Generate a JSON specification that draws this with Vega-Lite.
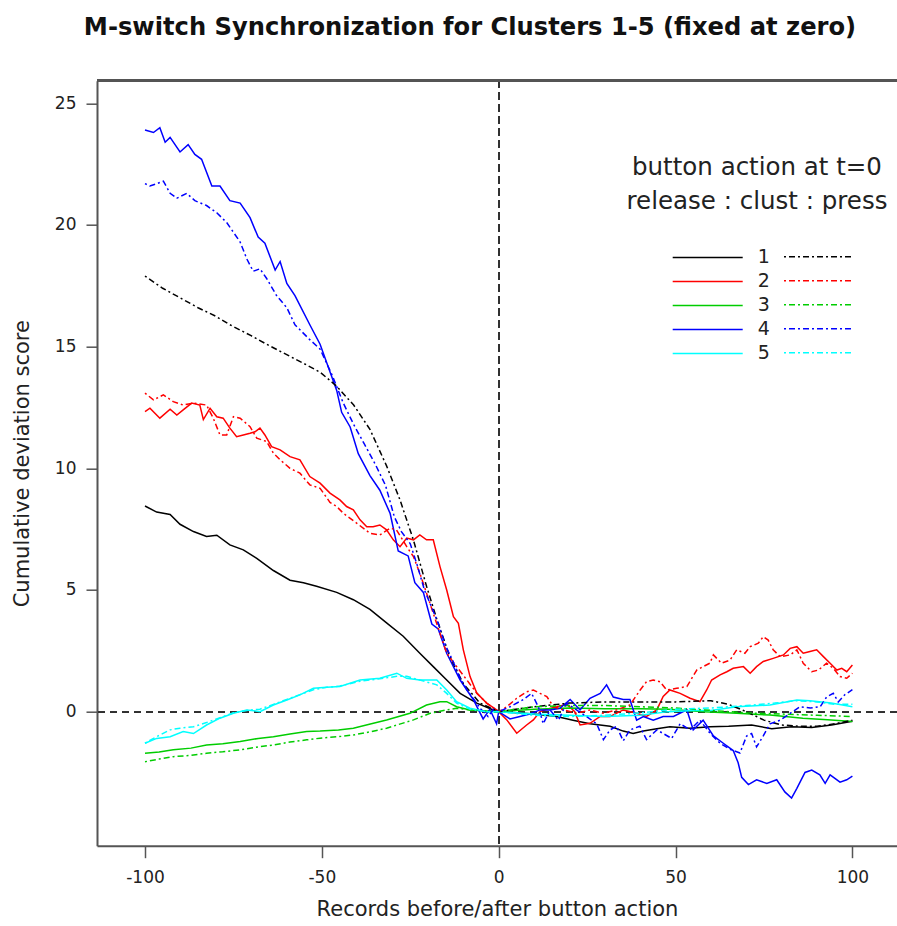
{
"$schema":"https://vega.github.io/schema/vega-lite/v6.json",
"width":800,"height":765,
"autosize":{"type":"none"},
"padding":{"left":97,"top":80.7,"right":0,"bottom":80.3},
"background":"white",
"title":{"text":"M-switch Synchronization for Clusters 1-5 (fixed at zero)","font":"DejaVu Sans","fontSize":24.2,"fontWeight":"bold","color":"#111","anchor":"middle","frame":"group","dx":-27,"offset":20,"baseline":"alphabetic"},
"config":{"view":{"stroke":null},"font":"DejaVu Sans"},
"data":{"values":[
{"c":"1","t":"r","x":-100,"y":8.45},{"c":"1","t":"r","x":-96.7,"y":8.2},{"c":"1","t":"r","x":-92.9,"y":8.1},{"c":"1","t":"r","x":-90.1,"y":7.7},{"c":"1","t":"r","x":-86.3,"y":7.4},{"c":"1","t":"r","x":-82.6,"y":7.2},{"c":"1","t":"r","x":-79.7,"y":7.25},{"c":"1","t":"r","x":-76,"y":6.85},{"c":"1","t":"r","x":-72.2,"y":6.65},{"c":"1","t":"r","x":-68.4,"y":6.3},{"c":"1","t":"r","x":-63.7,"y":5.8},{"c":"1","t":"r","x":-59,"y":5.4},{"c":"1","t":"r","x":-55.2,"y":5.3},{"c":"1","t":"r","x":-51.5,"y":5.15},{"c":"1","t":"r","x":-45.8,"y":4.9},{"c":"1","t":"r","x":-41.1,"y":4.6},{"c":"1","t":"r","x":-36.4,"y":4.2},{"c":"1","t":"r","x":-31.7,"y":3.65},{"c":"1","t":"r","x":-27,"y":3.1},{"c":"1","t":"r","x":-22.3,"y":2.4},{"c":"1","t":"r","x":-18.5,"y":1.85},{"c":"1","t":"r","x":-14.7,"y":1.3},{"c":"1","t":"r","x":-10.9,"y":0.75},{"c":"1","t":"r","x":-6.2,"y":0.35},{"c":"1","t":"r","x":-1.5,"y":0.07},{"c":"1","t":"r","x":0,"y":0},{"c":"1","t":"r","x":5,"y":-0.05},{"c":"1","t":"r","x":10,"y":-0.1},{"c":"1","t":"r","x":16.4,"y":-0.2},{"c":"1","t":"r","x":21,"y":-0.35},{"c":"1","t":"r","x":25.8,"y":-0.5},{"c":"1","t":"r","x":31.5,"y":-0.6},{"c":"1","t":"r","x":35.2,"y":-0.8},{"c":"1","t":"r","x":38,"y":-0.9},{"c":"1","t":"r","x":40.9,"y":-0.8},{"c":"1","t":"r","x":44.7,"y":-0.7},{"c":"1","t":"r","x":48.4,"y":-0.62},{"c":"1","t":"r","x":54.1,"y":-0.68},{"c":"1","t":"r","x":59.8,"y":-0.62},{"c":"1","t":"r","x":65,"y":-0.6},{"c":"1","t":"r","x":71.5,"y":-0.55},{"c":"1","t":"r","x":77.2,"y":-0.7},{"c":"1","t":"r","x":82.8,"y":-0.62},{"c":"1","t":"r","x":88.5,"y":-0.65},{"c":"1","t":"r","x":94.1,"y":-0.55},{"c":"1","t":"r","x":100,"y":-0.4},
{"c":"1","t":"p","x":-100,"y":17.9},{"c":"1","t":"p","x":-95,"y":17.4},{"c":"1","t":"p","x":-90,"y":17.0},{"c":"1","t":"p","x":-85,"y":16.6},{"c":"1","t":"p","x":-80,"y":16.25},{"c":"1","t":"p","x":-76,"y":15.9},{"c":"1","t":"p","x":-70,"y":15.45},{"c":"1","t":"p","x":-65,"y":15.05},{"c":"1","t":"p","x":-59,"y":14.6},{"c":"1","t":"p","x":-55,"y":14.3},{"c":"1","t":"p","x":-50.5,"y":13.95},{"c":"1","t":"p","x":-46,"y":13.4},{"c":"1","t":"p","x":-41,"y":12.6},{"c":"1","t":"p","x":-36.4,"y":11.6},{"c":"1","t":"p","x":-31.7,"y":10.1},{"c":"1","t":"p","x":-27.9,"y":8.7},{"c":"1","t":"p","x":-24.1,"y":7.05},{"c":"1","t":"p","x":-20.4,"y":5.15},{"c":"1","t":"p","x":-17.5,"y":3.8},{"c":"1","t":"p","x":-13.8,"y":2.25},{"c":"1","t":"p","x":-10,"y":1.15},{"c":"1","t":"p","x":-5.3,"y":0.35},{"c":"1","t":"p","x":0,"y":0},{"c":"1","t":"p","x":10,"y":0.2},{"c":"1","t":"p","x":20,"y":0.35},{"c":"1","t":"p","x":30,"y":0.4},{"c":"1","t":"p","x":40,"y":0.4},{"c":"1","t":"p","x":50,"y":0.4},{"c":"1","t":"p","x":60,"y":0.45},{"c":"1","t":"p","x":65,"y":0.3},{"c":"1","t":"p","x":70,"y":0},{"c":"1","t":"p","x":75,"y":-0.35},{"c":"1","t":"p","x":80,"y":-0.55},{"c":"1","t":"p","x":85,"y":-0.6},{"c":"1","t":"p","x":90,"y":-0.6},{"c":"1","t":"p","x":95,"y":-0.5},{"c":"1","t":"p","x":100,"y":-0.35},
{"c":"2","t":"r","x":-100,"y":12.33},{"c":"2","t":"r","x":-98.6,"y":12.47},{"c":"2","t":"r","x":-95.8,"y":12.06},{"c":"2","t":"r","x":-92.9,"y":12.43},{"c":"2","t":"r","x":-91,"y":12.19},{"c":"2","t":"r","x":-89.2,"y":12.4},{"c":"2","t":"r","x":-86.8,"y":12.68},{"c":"2","t":"r","x":-84.5,"y":12.6},{"c":"2","t":"r","x":-83.5,"y":12.0},{"c":"2","t":"r","x":-81.6,"y":12.47},{"c":"2","t":"r","x":-79.7,"y":12.12},{"c":"2","t":"r","x":-77.9,"y":12.06},{"c":"2","t":"r","x":-76,"y":11.65},{"c":"2","t":"r","x":-74.1,"y":11.3},{"c":"2","t":"r","x":-72.2,"y":11.37},{"c":"2","t":"r","x":-70.3,"y":11.44},{"c":"2","t":"r","x":-68.9,"y":11.5},{"c":"2","t":"r","x":-67.5,"y":11.65},{"c":"2","t":"r","x":-66.1,"y":11.37},{"c":"2","t":"r","x":-64.2,"y":10.89},{"c":"2","t":"r","x":-61.8,"y":10.76},{"c":"2","t":"r","x":-59,"y":10.48},{"c":"2","t":"r","x":-56.2,"y":10.35},{"c":"2","t":"r","x":-53.4,"y":9.66},{"c":"2","t":"r","x":-50.5,"y":9.39},{"c":"2","t":"r","x":-47.7,"y":8.98},{"c":"2","t":"r","x":-44.9,"y":8.7},{"c":"2","t":"r","x":-43,"y":8.43},{"c":"2","t":"r","x":-41.1,"y":8.29},{"c":"2","t":"r","x":-39.2,"y":7.88},{"c":"2","t":"r","x":-37.3,"y":7.6},{"c":"2","t":"r","x":-35.5,"y":7.6},{"c":"2","t":"r","x":-33.6,"y":7.67},{"c":"2","t":"r","x":-31.7,"y":7.47},{"c":"2","t":"r","x":-29.8,"y":7.06},{"c":"2","t":"r","x":-27.9,"y":6.78},{"c":"2","t":"r","x":-26,"y":7.13},{"c":"2","t":"r","x":-24.1,"y":7.06},{"c":"2","t":"r","x":-22.3,"y":7.26},{"c":"2","t":"r","x":-20.4,"y":7.06},{"c":"2","t":"r","x":-18.5,"y":7.06},{"c":"2","t":"r","x":-16.6,"y":5.96},{"c":"2","t":"r","x":-14.7,"y":5.0},{"c":"2","t":"r","x":-12.8,"y":3.9},{"c":"2","t":"r","x":-11.4,"y":3.63},{"c":"2","t":"r","x":-10,"y":2.54},{"c":"2","t":"r","x":-8.1,"y":1.44},{"c":"2","t":"r","x":-6.2,"y":0.76},{"c":"2","t":"r","x":-3.4,"y":0.35},{"c":"2","t":"r","x":-0.6,"y":0.07},{"c":"2","t":"r","x":0,"y":0},{"c":"2","t":"r","x":2.3,"y":-0.34},{"c":"2","t":"r","x":5.1,"y":-0.89},{"c":"2","t":"r","x":7.9,"y":-0.55},{"c":"2","t":"r","x":9.8,"y":-0.34},{"c":"2","t":"r","x":11.7,"y":0.0},{"c":"2","t":"r","x":13.6,"y":0.1},{"c":"2","t":"r","x":16.5,"y":0.2},{"c":"2","t":"r","x":19.3,"y":0.3},{"c":"2","t":"r","x":21.5,"y":0.0},{"c":"2","t":"r","x":23,"y":-0.55},{"c":"2","t":"r","x":25.8,"y":-0.48},{"c":"2","t":"r","x":28.7,"y":-0.2},{"c":"2","t":"r","x":31.5,"y":-0.2},{"c":"2","t":"r","x":35.2,"y":0.07},{"c":"2","t":"r","x":39,"y":-0.07},{"c":"2","t":"r","x":41.8,"y":-0.2},{"c":"2","t":"r","x":44.7,"y":0.07},{"c":"2","t":"r","x":46.5,"y":0.62},{"c":"2","t":"r","x":48.4,"y":0.89},{"c":"2","t":"r","x":51.3,"y":0.75},{"c":"2","t":"r","x":54.1,"y":0.55},{"c":"2","t":"r","x":56.9,"y":0.41},{"c":"2","t":"r","x":58.8,"y":0.89},{"c":"2","t":"r","x":60.2,"y":1.3},{"c":"2","t":"r","x":62.6,"y":1.51},{"c":"2","t":"r","x":64.5,"y":1.64},{"c":"2","t":"r","x":66.3,"y":1.78},{"c":"2","t":"r","x":69.2,"y":1.85},{"c":"2","t":"r","x":71.1,"y":1.58},{"c":"2","t":"r","x":72.9,"y":1.85},{"c":"2","t":"r","x":74.8,"y":2.06},{"c":"2","t":"r","x":77.6,"y":2.19},{"c":"2","t":"r","x":80.5,"y":2.33},{"c":"2","t":"r","x":82.4,"y":2.6},{"c":"2","t":"r","x":84.3,"y":2.67},{"c":"2","t":"r","x":86.1,"y":2.4},{"c":"2","t":"r","x":88,"y":2.47},{"c":"2","t":"r","x":89.9,"y":2.54},{"c":"2","t":"r","x":91.8,"y":2.26},{"c":"2","t":"r","x":93.7,"y":1.99},{"c":"2","t":"r","x":95.6,"y":1.71},{"c":"2","t":"r","x":97,"y":1.78},{"c":"2","t":"r","x":98.4,"y":1.64},{"c":"2","t":"r","x":100,"y":1.92},
{"c":"2","t":"p","x":-100,"y":13.09},{"c":"2","t":"p","x":-97.6,"y":12.81},{"c":"2","t":"p","x":-94.8,"y":13.02},{"c":"2","t":"p","x":-92,"y":12.74},{"c":"2","t":"p","x":-89.2,"y":12.6},{"c":"2","t":"p","x":-86.3,"y":12.68},{"c":"2","t":"p","x":-82.6,"y":12.6},{"c":"2","t":"p","x":-80.7,"y":12.06},{"c":"2","t":"p","x":-78.8,"y":11.37},{"c":"2","t":"p","x":-76.9,"y":11.37},{"c":"2","t":"p","x":-75,"y":12.12},{"c":"2","t":"p","x":-73.1,"y":12.06},{"c":"2","t":"p","x":-70.3,"y":11.71},{"c":"2","t":"p","x":-68.4,"y":11.24},{"c":"2","t":"p","x":-65.6,"y":11.1},{"c":"2","t":"p","x":-63.7,"y":10.62},{"c":"2","t":"p","x":-61.8,"y":10.35},{"c":"2","t":"p","x":-59,"y":10.0},{"c":"2","t":"p","x":-56.2,"y":9.8},{"c":"2","t":"p","x":-53.4,"y":9.32},{"c":"2","t":"p","x":-50.5,"y":9.18},{"c":"2","t":"p","x":-47.7,"y":8.6},{"c":"2","t":"p","x":-45.8,"y":8.43},{"c":"2","t":"p","x":-43.9,"y":8.15},{"c":"2","t":"p","x":-40.1,"y":7.74},{"c":"2","t":"p","x":-36.4,"y":7.33},{"c":"2","t":"p","x":-33.6,"y":7.26},{"c":"2","t":"p","x":-30.7,"y":7.54},{"c":"2","t":"p","x":-28.9,"y":7.47},{"c":"2","t":"p","x":-26,"y":6.78},{"c":"2","t":"p","x":-24.1,"y":6.37},{"c":"2","t":"p","x":-22.3,"y":5.69},{"c":"2","t":"p","x":-20.4,"y":4.87},{"c":"2","t":"p","x":-18.5,"y":4.04},{"c":"2","t":"p","x":-16.6,"y":3.22},{"c":"2","t":"p","x":-14.7,"y":2.4},{"c":"2","t":"p","x":-11.9,"y":1.85},{"c":"2","t":"p","x":-9,"y":1.3},{"c":"2","t":"p","x":-6.2,"y":0.76},{"c":"2","t":"p","x":-3.4,"y":0.35},{"c":"2","t":"p","x":0,"y":0},{"c":"2","t":"p","x":2.3,"y":0.2},{"c":"2","t":"p","x":5.1,"y":0.55},{"c":"2","t":"p","x":7.9,"y":0.82},{"c":"2","t":"p","x":9.8,"y":0.89},{"c":"2","t":"p","x":11.7,"y":0.75},{"c":"2","t":"p","x":13.6,"y":0.62},{"c":"2","t":"p","x":15.5,"y":0.2},{"c":"2","t":"p","x":18.3,"y":0.07},{"c":"2","t":"p","x":22,"y":-0.07},{"c":"2","t":"p","x":25.8,"y":0.07},{"c":"2","t":"p","x":29.6,"y":-0.07},{"c":"2","t":"p","x":33.3,"y":0.07},{"c":"2","t":"p","x":37.1,"y":0.27},{"c":"2","t":"p","x":40,"y":0.89},{"c":"2","t":"p","x":41.8,"y":1.23},{"c":"2","t":"p","x":43.7,"y":1.3},{"c":"2","t":"p","x":45.6,"y":1.23},{"c":"2","t":"p","x":47.5,"y":0.89},{"c":"2","t":"p","x":50.3,"y":0.96},{"c":"2","t":"p","x":53.2,"y":1.03},{"c":"2","t":"p","x":56,"y":1.71},{"c":"2","t":"p","x":57.8,"y":1.85},{"c":"2","t":"p","x":59.7,"y":1.99},{"c":"2","t":"p","x":60.7,"y":2.33},{"c":"2","t":"p","x":63,"y":1.99},{"c":"2","t":"p","x":65.4,"y":2.12},{"c":"2","t":"p","x":67.3,"y":2.54},{"c":"2","t":"p","x":69.6,"y":2.4},{"c":"2","t":"p","x":71.1,"y":2.67},{"c":"2","t":"p","x":73.4,"y":2.81},{"c":"2","t":"p","x":74.8,"y":3.08},{"c":"2","t":"p","x":76.2,"y":2.94},{"c":"2","t":"p","x":77.6,"y":2.54},{"c":"2","t":"p","x":79.6,"y":2.26},{"c":"2","t":"p","x":82.4,"y":2.33},{"c":"2","t":"p","x":84.3,"y":2.54},{"c":"2","t":"p","x":86.1,"y":1.99},{"c":"2","t":"p","x":88.5,"y":1.64},{"c":"2","t":"p","x":90.4,"y":1.71},{"c":"2","t":"p","x":92.7,"y":1.99},{"c":"2","t":"p","x":94.6,"y":1.78},{"c":"2","t":"p","x":96.5,"y":1.44},{"c":"2","t":"p","x":98.4,"y":1.37},{"c":"2","t":"p","x":100,"y":1.58},
{"c":"3","t":"r","x":-100,"y":-1.71},{"c":"3","t":"r","x":-96,"y":-1.66},{"c":"3","t":"r","x":-92,"y":-1.57},{"c":"3","t":"r","x":-87,"y":-1.5},{"c":"3","t":"r","x":-82.6,"y":-1.37},{"c":"3","t":"r","x":-78,"y":-1.32},{"c":"3","t":"r","x":-73.1,"y":-1.23},{"c":"3","t":"r","x":-68,"y":-1.1},{"c":"3","t":"r","x":-63.7,"y":-1.03},{"c":"3","t":"r","x":-59,"y":-0.92},{"c":"3","t":"r","x":-54.3,"y":-0.82},{"c":"3","t":"r","x":-50.5,"y":-0.8},{"c":"3","t":"r","x":-45.3,"y":-0.75},{"c":"3","t":"r","x":-41.1,"y":-0.68},{"c":"3","t":"r","x":-36,"y":-0.5},{"c":"3","t":"r","x":-31.7,"y":-0.34},{"c":"3","t":"r","x":-25.1,"y":-0.07},{"c":"3","t":"r","x":-20.4,"y":0.27},{"c":"3","t":"r","x":-16.6,"y":0.41},{"c":"3","t":"r","x":-14.7,"y":0.41},{"c":"3","t":"r","x":-11.9,"y":0.2},{"c":"3","t":"r","x":-8.1,"y":0.07},{"c":"3","t":"r","x":0,"y":0},{"c":"3","t":"r","x":10,"y":0.1},{"c":"3","t":"r","x":20,"y":0.15},{"c":"3","t":"r","x":30,"y":0.12},{"c":"3","t":"r","x":40,"y":0.12},{"c":"3","t":"r","x":48,"y":0.1},{"c":"3","t":"r","x":58,"y":0.0},{"c":"3","t":"r","x":67.3,"y":-0.07},{"c":"3","t":"r","x":76.7,"y":-0.14},{"c":"3","t":"r","x":86,"y":-0.27},{"c":"3","t":"r","x":93,"y":-0.33},{"c":"3","t":"r","x":100,"y":-0.41},
{"c":"3","t":"p","x":-100,"y":-2.06},{"c":"3","t":"p","x":-96,"y":-1.95},{"c":"3","t":"p","x":-92,"y":-1.85},{"c":"3","t":"p","x":-87,"y":-1.8},{"c":"3","t":"p","x":-82.6,"y":-1.71},{"c":"3","t":"p","x":-78,"y":-1.65},{"c":"3","t":"p","x":-73.1,"y":-1.57},{"c":"3","t":"p","x":-68,"y":-1.45},{"c":"3","t":"p","x":-63.7,"y":-1.37},{"c":"3","t":"p","x":-59,"y":-1.25},{"c":"3","t":"p","x":-54.3,"y":-1.16},{"c":"3","t":"p","x":-50.5,"y":-1.09},{"c":"3","t":"p","x":-45.3,"y":-1.03},{"c":"3","t":"p","x":-41.1,"y":-0.96},{"c":"3","t":"p","x":-36,"y":-0.82},{"c":"3","t":"p","x":-31.7,"y":-0.68},{"c":"3","t":"p","x":-24.1,"y":-0.34},{"c":"3","t":"p","x":-19.4,"y":-0.07},{"c":"3","t":"p","x":-14.7,"y":0.07},{"c":"3","t":"p","x":-11.9,"y":0.14},{"c":"3","t":"p","x":-8.1,"y":0.07},{"c":"3","t":"p","x":0,"y":0},{"c":"3","t":"p","x":10,"y":0.2},{"c":"3","t":"p","x":20,"y":0.25},{"c":"3","t":"p","x":30,"y":0.25},{"c":"3","t":"p","x":40,"y":0.2},{"c":"3","t":"p","x":50,"y":0.15},{"c":"3","t":"p","x":60,"y":0.05},{"c":"3","t":"p","x":70,"y":-0.05},{"c":"3","t":"p","x":80,"y":-0.1},{"c":"3","t":"p","x":90,"y":-0.15},{"c":"3","t":"p","x":100,"y":-0.2},
{"c":"4","t":"r","x":-100,"y":23.9},{"c":"4","t":"r","x":-97.6,"y":23.8},{"c":"4","t":"r","x":-95.8,"y":24.0},{"c":"4","t":"r","x":-94.3,"y":23.4},{"c":"4","t":"r","x":-92.9,"y":23.6},{"c":"4","t":"r","x":-90.1,"y":23.0},{"c":"4","t":"r","x":-87.8,"y":23.3},{"c":"4","t":"r","x":-85.9,"y":22.9},{"c":"4","t":"r","x":-84,"y":22.7},{"c":"4","t":"r","x":-81.1,"y":21.6},{"c":"4","t":"r","x":-78.8,"y":21.6},{"c":"4","t":"r","x":-76,"y":21.0},{"c":"4","t":"r","x":-73.1,"y":20.9},{"c":"4","t":"r","x":-70.3,"y":20.3},{"c":"4","t":"r","x":-68,"y":19.5},{"c":"4","t":"r","x":-66.1,"y":19.25},{"c":"4","t":"r","x":-63.2,"y":18.15},{"c":"4","t":"r","x":-61.8,"y":18.5},{"c":"4","t":"r","x":-59.9,"y":17.6},{"c":"4","t":"r","x":-57.6,"y":17.1},{"c":"4","t":"r","x":-53.4,"y":15.9},{"c":"4","t":"r","x":-50.5,"y":15.1},{"c":"4","t":"r","x":-45.8,"y":13.2},{"c":"4","t":"r","x":-44.4,"y":12.3},{"c":"4","t":"r","x":-42,"y":11.7},{"c":"4","t":"r","x":-39.7,"y":10.6},{"c":"4","t":"r","x":-36.4,"y":9.7},{"c":"4","t":"r","x":-33.6,"y":9.1},{"c":"4","t":"r","x":-30.7,"y":8.15},{"c":"4","t":"r","x":-28.4,"y":6.6},{"c":"4","t":"r","x":-25.6,"y":6.4},{"c":"4","t":"r","x":-23.7,"y":5.3},{"c":"4","t":"r","x":-21.3,"y":4.9},{"c":"4","t":"r","x":-18.9,"y":3.6},{"c":"4","t":"r","x":-17.1,"y":3.4},{"c":"4","t":"r","x":-14.7,"y":2.4},{"c":"4","t":"r","x":-10.9,"y":1.3},{"c":"4","t":"r","x":-7.2,"y":0.5},{"c":"4","t":"r","x":-4.4,"y":-0.3},{"c":"4","t":"r","x":-2.5,"y":0.1},{"c":"4","t":"r","x":-0.6,"y":-0.5},{"c":"4","t":"r","x":0,"y":0},{"c":"4","t":"r","x":3.2,"y":-0.3},{"c":"4","t":"r","x":6,"y":-0.2},{"c":"4","t":"r","x":8.8,"y":-0.1},{"c":"4","t":"r","x":11.7,"y":0.07},{"c":"4","t":"r","x":14.5,"y":0.07},{"c":"4","t":"r","x":17.3,"y":0.14},{"c":"4","t":"r","x":20.2,"y":0.5},{"c":"4","t":"r","x":23,"y":0.07},{"c":"4","t":"r","x":25.8,"y":0.55},{"c":"4","t":"r","x":28.7,"y":0.75},{"c":"4","t":"r","x":30.5,"y":1.1},{"c":"4","t":"r","x":32.4,"y":0.6},{"c":"4","t":"r","x":35.2,"y":0.5},{"c":"4","t":"r","x":37.1,"y":0.5},{"c":"4","t":"r","x":39,"y":-0.35},{"c":"4","t":"r","x":40.9,"y":-0.2},{"c":"4","t":"r","x":43.7,"y":-0.35},{"c":"4","t":"r","x":46.5,"y":-0.2},{"c":"4","t":"r","x":49.4,"y":-0.2},{"c":"4","t":"r","x":53.2,"y":0.07},{"c":"4","t":"r","x":55,"y":-0.75},{"c":"4","t":"r","x":57.8,"y":-0.35},{"c":"4","t":"r","x":60.7,"y":-1.0},{"c":"4","t":"r","x":63.5,"y":-1.3},{"c":"4","t":"r","x":66.3,"y":-1.6},{"c":"4","t":"r","x":67.7,"y":-2.1},{"c":"4","t":"r","x":68.7,"y":-2.7},{"c":"4","t":"r","x":70.6,"y":-3.0},{"c":"4","t":"r","x":72.9,"y":-2.8},{"c":"4","t":"r","x":75.8,"y":-2.95},{"c":"4","t":"r","x":78.6,"y":-2.8},{"c":"4","t":"r","x":80.9,"y":-3.3},{"c":"4","t":"r","x":82.8,"y":-3.55},{"c":"4","t":"r","x":84.3,"y":-3.15},{"c":"4","t":"r","x":86.6,"y":-2.5},{"c":"4","t":"r","x":88.5,"y":-2.4},{"c":"4","t":"r","x":90.8,"y":-2.6},{"c":"4","t":"r","x":92.3,"y":-2.95},{"c":"4","t":"r","x":93.7,"y":-2.6},{"c":"4","t":"r","x":96.5,"y":-2.9},{"c":"4","t":"r","x":98.4,"y":-2.8},{"c":"4","t":"r","x":100,"y":-2.65},
{"c":"4","t":"p","x":-100,"y":21.7},{"c":"4","t":"p","x":-98.6,"y":21.6},{"c":"4","t":"p","x":-96.7,"y":21.7},{"c":"4","t":"p","x":-94.8,"y":21.8},{"c":"4","t":"p","x":-92.9,"y":21.3},{"c":"4","t":"p","x":-91,"y":21.1},{"c":"4","t":"p","x":-88.2,"y":21.3},{"c":"4","t":"p","x":-85.9,"y":21.0},{"c":"4","t":"p","x":-82.6,"y":20.8},{"c":"4","t":"p","x":-79.7,"y":20.5},{"c":"4","t":"p","x":-76.9,"y":20.1},{"c":"4","t":"p","x":-75,"y":19.7},{"c":"4","t":"p","x":-73.1,"y":19.3},{"c":"4","t":"p","x":-71.2,"y":18.6},{"c":"4","t":"p","x":-69.4,"y":18.1},{"c":"4","t":"p","x":-67.5,"y":18.2},{"c":"4","t":"p","x":-65.6,"y":17.8},{"c":"4","t":"p","x":-62.8,"y":17.1},{"c":"4","t":"p","x":-59.9,"y":16.6},{"c":"4","t":"p","x":-57.6,"y":15.9},{"c":"4","t":"p","x":-53.5,"y":15.3},{"c":"4","t":"p","x":-50.5,"y":14.9},{"c":"4","t":"p","x":-47,"y":13.8},{"c":"4","t":"p","x":-44,"y":12.7},{"c":"4","t":"p","x":-41,"y":11.8},{"c":"4","t":"p","x":-38,"y":11.0},{"c":"4","t":"p","x":-35,"y":10.2},{"c":"4","t":"p","x":-32,"y":9.3},{"c":"4","t":"p","x":-29.5,"y":8.0},{"c":"4","t":"p","x":-27.5,"y":7.4},{"c":"4","t":"p","x":-25,"y":6.9},{"c":"4","t":"p","x":-23,"y":6.0},{"c":"4","t":"p","x":-21,"y":5.0},{"c":"4","t":"p","x":-19,"y":4.3},{"c":"4","t":"p","x":-17,"y":3.6},{"c":"4","t":"p","x":-15,"y":2.7},{"c":"4","t":"p","x":-13,"y":2.1},{"c":"4","t":"p","x":-11,"y":1.4},{"c":"4","t":"p","x":-9,"y":0.9},{"c":"4","t":"p","x":-7,"y":0.5},{"c":"4","t":"p","x":-5,"y":0.1},{"c":"4","t":"p","x":-3,"y":-0.2},{"c":"4","t":"p","x":-1.5,"y":0.1},{"c":"4","t":"p","x":0,"y":0},{"c":"4","t":"p","x":3.2,"y":0.2},{"c":"4","t":"p","x":7,"y":0.5},{"c":"4","t":"p","x":9.3,"y":0.75},{"c":"4","t":"p","x":11.2,"y":0.2},{"c":"4","t":"p","x":12.6,"y":-0.5},{"c":"4","t":"p","x":14.5,"y":0.07},{"c":"4","t":"p","x":16.9,"y":-0.35},{"c":"4","t":"p","x":19.2,"y":0.35},{"c":"4","t":"p","x":22,"y":0.07},{"c":"4","t":"p","x":24.8,"y":-0.2},{"c":"4","t":"p","x":27.7,"y":-0.5},{"c":"4","t":"p","x":29.6,"y":-1.15},{"c":"4","t":"p","x":31.5,"y":-0.75},{"c":"4","t":"p","x":33.3,"y":-0.6},{"c":"4","t":"p","x":35.2,"y":-1.2},{"c":"4","t":"p","x":37.1,"y":-0.75},{"c":"4","t":"p","x":39.9,"y":-0.6},{"c":"4","t":"p","x":41.8,"y":-1.15},{"c":"4","t":"p","x":44.7,"y":-0.75},{"c":"4","t":"p","x":46.5,"y":-0.9},{"c":"4","t":"p","x":48.9,"y":-1.1},{"c":"4","t":"p","x":51.3,"y":-0.5},{"c":"4","t":"p","x":54.1,"y":-0.75},{"c":"4","t":"p","x":56.9,"y":-0.35},{"c":"4","t":"p","x":59.8,"y":-0.9},{"c":"4","t":"p","x":62.6,"y":-1.3},{"c":"4","t":"p","x":65.4,"y":-1.55},{"c":"4","t":"p","x":68.2,"y":-1.7},{"c":"4","t":"p","x":70.1,"y":-1.0},{"c":"4","t":"p","x":71.5,"y":-0.9},{"c":"4","t":"p","x":72.9,"y":-1.45},{"c":"4","t":"p","x":74.8,"y":-1.0},{"c":"4","t":"p","x":76.7,"y":-0.5},{"c":"4","t":"p","x":79.6,"y":-0.35},{"c":"4","t":"p","x":82.4,"y":-0.07},{"c":"4","t":"p","x":85.2,"y":0.2},{"c":"4","t":"p","x":88.1,"y":0.15},{"c":"4","t":"p","x":90.9,"y":0.2},{"c":"4","t":"p","x":92.7,"y":0.6},{"c":"4","t":"p","x":94.6,"y":0.75},{"c":"4","t":"p","x":96,"y":0.4},{"c":"4","t":"p","x":97.9,"y":0.7},{"c":"4","t":"p","x":100,"y":0.9},
{"c":"5","t":"r","x":-100,"y":-1.3},{"c":"5","t":"r","x":-96.7,"y":-1.1},{"c":"5","t":"r","x":-92.9,"y":-1.03},{"c":"5","t":"r","x":-89.2,"y":-0.82},{"c":"5","t":"r","x":-86.3,"y":-0.9},{"c":"5","t":"r","x":-82.6,"y":-0.55},{"c":"5","t":"r","x":-78.8,"y":-0.27},{"c":"5","t":"r","x":-75,"y":-0.07},{"c":"5","t":"r","x":-71.2,"y":0.07},{"c":"5","t":"r","x":-67.5,"y":0.0},{"c":"5","t":"r","x":-63.7,"y":0.27},{"c":"5","t":"r","x":-59.9,"y":0.48},{"c":"5","t":"r","x":-56.2,"y":0.69},{"c":"5","t":"r","x":-52.4,"y":0.96},{"c":"5","t":"r","x":-48.6,"y":1.0},{"c":"5","t":"r","x":-44.9,"y":1.03},{"c":"5","t":"r","x":-39.2,"y":1.3},{"c":"5","t":"r","x":-33.6,"y":1.37},{"c":"5","t":"r","x":-28.8,"y":1.58},{"c":"5","t":"r","x":-26,"y":1.37},{"c":"5","t":"r","x":-22.3,"y":1.3},{"c":"5","t":"r","x":-17.5,"y":1.3},{"c":"5","t":"r","x":-14.7,"y":0.89},{"c":"5","t":"r","x":-11.9,"y":0.41},{"c":"5","t":"r","x":-8.1,"y":0.14},{"c":"5","t":"r","x":-3.4,"y":0.0},{"c":"5","t":"r","x":0,"y":0},{"c":"5","t":"r","x":10,"y":-0.1},{"c":"5","t":"r","x":20,"y":-0.15},{"c":"5","t":"r","x":30,"y":-0.2},{"c":"5","t":"r","x":40,"y":-0.15},{"c":"5","t":"r","x":48,"y":0.0},{"c":"5","t":"r","x":55,"y":0.05},{"c":"5","t":"r","x":60,"y":0.05},{"c":"5","t":"r","x":67.3,"y":0.2},{"c":"5","t":"r","x":76.7,"y":0.27},{"c":"5","t":"r","x":84.3,"y":0.48},{"c":"5","t":"r","x":88,"y":0.45},{"c":"5","t":"r","x":94,"y":0.35},{"c":"5","t":"r","x":100,"y":0.2},
{"c":"5","t":"p","x":-100,"y":-1.3},{"c":"5","t":"p","x":-97,"y":-1.05},{"c":"5","t":"p","x":-92.9,"y":-0.75},{"c":"5","t":"p","x":-90.1,"y":-0.68},{"c":"5","t":"p","x":-86.3,"y":-0.62},{"c":"5","t":"p","x":-82.6,"y":-0.45},{"c":"5","t":"p","x":-78.8,"y":-0.25},{"c":"5","t":"p","x":-75,"y":-0.05},{"c":"5","t":"p","x":-71.2,"y":0.05},{"c":"5","t":"p","x":-67.5,"y":0.1},{"c":"5","t":"p","x":-63.7,"y":0.3},{"c":"5","t":"p","x":-59.9,"y":0.5},{"c":"5","t":"p","x":-56.2,"y":0.7},{"c":"5","t":"p","x":-52.4,"y":0.9},{"c":"5","t":"p","x":-48.6,"y":1.0},{"c":"5","t":"p","x":-44.9,"y":1.05},{"c":"5","t":"p","x":-39.2,"y":1.25},{"c":"5","t":"p","x":-33.6,"y":1.35},{"c":"5","t":"p","x":-28.8,"y":1.45},{"c":"5","t":"p","x":-26,"y":1.45},{"c":"5","t":"p","x":-22.3,"y":1.3},{"c":"5","t":"p","x":-17.5,"y":1.1},{"c":"5","t":"p","x":-14.7,"y":0.75},{"c":"5","t":"p","x":-11.9,"y":0.35},{"c":"5","t":"p","x":-8.1,"y":0.1},{"c":"5","t":"p","x":-3.4,"y":0.0},{"c":"5","t":"p","x":0,"y":0},{"c":"5","t":"p","x":10,"y":-0.15},{"c":"5","t":"p","x":20,"y":-0.2},{"c":"5","t":"p","x":30,"y":-0.15},{"c":"5","t":"p","x":40,"y":-0.05},{"c":"5","t":"p","x":50,"y":0.1},{"c":"5","t":"p","x":60,"y":0.15},{"c":"5","t":"p","x":70,"y":0.25},{"c":"5","t":"p","x":78,"y":0.35},{"c":"5","t":"p","x":84,"y":0.45},{"c":"5","t":"p","x":90,"y":0.4},{"c":"5","t":"p","x":95,"y":0.3},{"c":"5","t":"p","x":100,"y":0.3}
]},
"layer":[
{"mark":{"type":"rule","strokeDash":[7,5],"color":"#333","strokeWidth":1.3},"encoding":{"y":{"datum":0,"type":"quantitative"}}},
{"mark":{"type":"rule","strokeDash":[7,5],"color":"#333","strokeWidth":1.3},"encoding":{"x":{"datum":0,"type":"quantitative"}}},
{"mark":{"type":"rule","color":"#555","strokeWidth":2},"encoding":{"y":{"datum":25.93,"type":"quantitative"}}},
{"transform":[{"filter":"datum.t==='r'"}],
 "mark":{"type":"line","strokeWidth":1.5},
 "encoding":{
  "x":{"field":"x","type":"quantitative","scale":{"domain":[-113.57,112.61],"nice":false,"zero":false},
   "axis":{"values":[-100,-50,0,50,100],"grid":false,"domainColor":"#555","domainWidth":2,"tickColor":"#555","tickWidth":1.5,"tickSize":12,"labelFont":"DejaVu Sans","labelFontSize":17,"labelColor":"#222","labelPadding":12,"labelFlush":false,"labelExpr":"toString(datum.value)","title":"Records before/after button action","titleFont":"DejaVu Sans","titleFontSize":21,"titleFontWeight":"normal","titleColor":"#222","titlePadding":13}},
  "y":{"field":"y","type":"quantitative","scale":{"domain":[-5.51,25.93],"nice":false,"zero":false},
   "axis":{"values":[0,5,10,15,20,25],"grid":false,"domainColor":"#555","domainWidth":2,"tickColor":"#555","tickWidth":1.5,"tickSize":11,"labelFont":"DejaVu Sans","labelFontSize":17,"labelColor":"#222","labelPadding":10,"title":"Cumulative deviation score","titleFont":"DejaVu Sans","titleFontSize":21,"titleFontWeight":"normal","titleColor":"#222","titlePadding":22}},
  "color":{"field":"c","type":"nominal","scale":{"domain":["1","2","3","4","5"],"range":["#000000","#FF0000","#00CD00","#0000FF","#00FFFF"]},
   "legend":{"orient":"none","legendX":529.7,"legendY":75.7,"padding":0,
    "title":["button action at t=0","release : clust : press"],"titleFont":"DejaVu Sans","titleFontSize":24.5,"titleFontWeight":"normal","titleColor":"#222","titleLineHeight":33.5,"titleAnchor":"start","titleAlign":"center","titlePadding":33.5,"titleLimit":500,
    "encoding":{"title":{"dx":{"value":84.3}}},
    "symbolType":"M-9.5,0H60.5","symbolSize":4,"symbolStrokeWidth":1.5,"rowPadding":4,
    "labelFont":"DejaVu Sans","labelFontSize":19,"labelColor":"#222","labelOffset":66}}
 }},
{"transform":[{"filter":"datum.t==='p'"}],
 "mark":{"type":"line","strokeWidth":1.5,"strokeDash":[2,3,6,3]},
 "encoding":{
  "x":{"field":"x","type":"quantitative"},
  "y":{"field":"y","type":"quantitative"},
  "color":{"field":"c","type":"nominal","scale":{"domain":["1","2","3","4","5"],"range":["#000000","#FF0000","#00CD00","#0000FF","#00FFFF"]},
   "legend":{"orient":"none","legendX":687,"legendY":166.5,"padding":0,"title":null,
    "symbolType":"M-9.5,0H60.5","symbolSize":4,"symbolStrokeWidth":1.5,"symbolDash":[2,3,6,3],"rowPadding":4,
    "labelExpr":"''","labelFontSize":19}}
 }}
],
"resolve":{"scale":{"color":"independent"}}
}
